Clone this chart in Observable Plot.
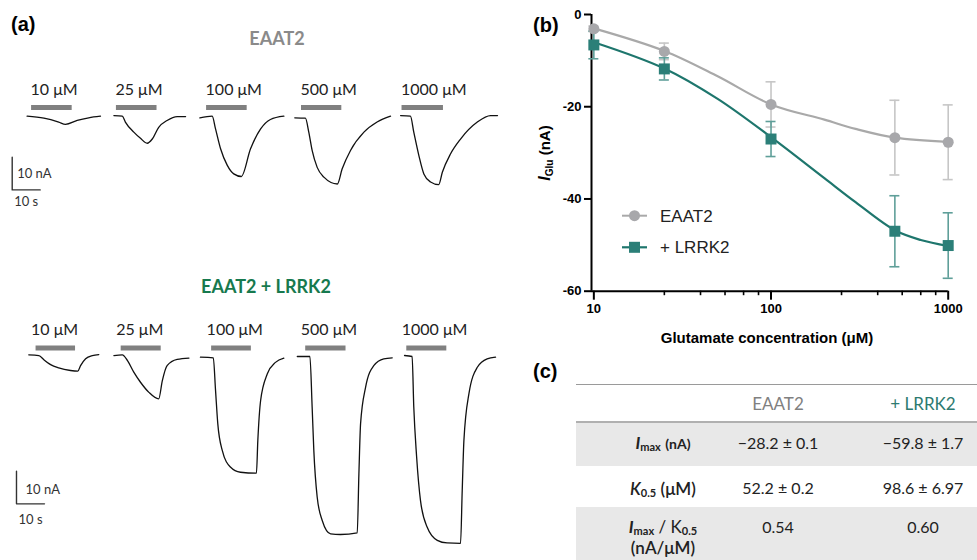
<!DOCTYPE html>
<html>
<head>
<meta charset="utf-8">
<script src="https://cdn.jsdelivr.net/npm/d3@7"></script>
<script src="https://cdn.jsdelivr.net/npm/@observablehq/plot@0.6"></script>
<style>
  html, body { margin: 0; padding: 0; background: #fff; }
  #page { position: relative; width: 977px; height: 560px; overflow: hidden; font-family: "Liberation Sans", Arial, sans-serif; }
  .abs { position: absolute; white-space: nowrap; }
  .panel { font: bold 20px "Liberation Sans", Arial, sans-serif; transform: translateY(-50%); line-height: 1; }
  .ctr { transform: translate(-50%, -50%); line-height: 1; }
  .tbl { font-family: Lato, "Open Sans", sans-serif; font-size: 16px; color: #222; }
  .tbl sub { font-size: 11px; vertical-align: -2px; font-weight: bold; line-height: 0; }
</style>
</head>
<body>
<div id="page">
  <div class="abs panel" style="left:11px; top:24px;">(a)</div>
  <div class="abs panel" style="left:533px; top:25px;">(b)</div>
  <div class="abs panel" style="left:533px; top:371px;">(c)</div>

  <div class="abs ctr" style="left:277px; top:38px; font: bold 18px Lato, sans-serif; color:#8a8a8a;">EAAT2</div>
  <div class="abs ctr" style="left:266px; top:286px; font: bold 18px Lato, sans-serif; color:#17794e;">EAAT2 + LRRK2</div>

  <div id="row1" class="abs" style="left:0; top:0;"></div>
  <div id="row2" class="abs" style="left:0; top:230px;"></div>
  <div id="panelB" class="abs" style="left:530px; top:0;"></div>

  <!-- panel (b) axis titles -->
  <div class="abs" style="left:546px; top:153px; transform: translate(-50%,-50%) rotate(-90deg); font: bold 15px 'Liberation Sans', Arial, sans-serif; line-height:1;">
    <i style="font-size:16px">I</i><sub style="font-size:10px; vertical-align:-3px;">Glu</sub> (nA)
  </div>
  <div class="abs ctr" style="left:767px; top:337px; font: bold 15px 'Liberation Sans', Arial, sans-serif;">Glutamate concentration (μM)</div>

  <!-- panel (b) legend -->
  <svg class="abs" style="left:615px; top:205px;" width="40" height="55">
    <line x1="7" y1="10.7" x2="32" y2="10.7" stroke="#a9a9a9" stroke-width="2"/>
    <circle cx="19.5" cy="10.7" r="5.5" fill="#a8a8ab"/>
    <line x1="7" y1="42.3" x2="32" y2="42.3" stroke="#1e766d" stroke-width="2.2"/>
    <rect x="14" y="36.8" width="11" height="11" fill="#2b7f78"/>
  </svg>
  <div class="abs" style="left:660px; top:216px; transform:translateY(-50%); font: 17px 'Liberation Sans', Arial, sans-serif; color:#222; line-height:1;">EAAT2</div>
  <div class="abs" style="left:660px; top:247px; transform:translateY(-50%); font: 17px 'Liberation Sans', Arial, sans-serif; color:#222; line-height:1;">+ LRRK2</div>

  <!-- panel (c) table -->
  <div id="tableC" class="abs tbl" style="left:576px; top:384px; width:401px; height:176px;"></div>
</div>

<script>
// ---------------- DATA ----------------
// Glutamate concentrations (µM)
const conc = [10, 25, 100, 500, 1000];

// Panel (a): current traces [time (s), current (nA)], EAAT2 alone
const eaat2Traces = [
  [[9.5,0],[15.5,-0.6],[20.8,-1.8],[23.2,-2.5],[27.4,-1.3],[31.5,-0.5],[35.7,0]],
  [[40.5,0.2],[43.5,0],[44.6,-1.8],[47.6,-4.9],[50,-6.8],[52.4,-8.3],[54.2,-7.0],[56.5,-3.4],[59.5,-1.3],[63.1,-0.1],[66.1,-0.1]],
  [[71.2,-0.5],[75.6,0],[76.8,-3.9],[78.6,-10.0],[81,-15.1],[83.3,-17.7],[86,-18.5],[89.3,-10.0],[92.9,-3.9],[96.4,-1.0],[101.2,0]],
  [[105.1,-0.5],[108.9,-0.6],[110.1,-4.9],[111.3,-10.5],[113.1,-15.7],[115.5,-18.7],[120.3,-20.8],[122,-16.2],[125,-10.5],[129.8,-4.9],[134.5,-1.8],[139.3,0]],
  [[142.9,0.2],[146.4,0],[147.6,-4.9],[149.4,-12.0],[151.2,-17.7],[153.6,-20.2],[156.5,-21.0],[157.8,-17.2],[160.7,-11.6],[164.3,-7.0],[170.3,-1.8],[175,0.2],[177.5,0.2]]
];
// EAAT2 + LRRK2
const lrrk2Traces = [
  [[10.1,0.5],[13.7,0.3],[15.5,-1.0],[17.9,-2.5],[20.8,-3.5],[25,-4.3],[27.6,-4.5],[28.6,-2.8],[30.4,-0.7],[32.8,0.3],[35.1,0.6]],
  [[40.5,0.3],[43.5,0.5],[45.3,-1.2],[47.6,-4.8],[50,-7.9],[53,-11.0],[56.5,-13.0],[57.8,-7.4],[59.5,-2.8],[63.1,-0.9],[67.3,-0.5]],
  [[71.4,-0.2],[76,-0.4],[76.8,-10.4],[77.6,-20.6],[79.2,-28.8],[82.1,-33.9],[85.7,-35.5],[91.4,-35.8],[91.9,-25.8],[92.9,-13.5],[95.3,-5.3],[98.2,-1.8],[101.2,-0.5]],
  [[106,0],[110.5,0],[111.3,-15.5],[111.9,-28.8],[113.1,-43.1],[114.9,-50.3],[117.9,-54.4],[121.4,-54.6],[127.4,-54.1],[128,-36.0],[128.6,-20.6],[130.4,-9.4],[133.3,-2.8],[136.9,-0.7],[139.9,-0.4]],
  [[144.3,0.3],[147,0],[147.6,-15.5],[148.6,-30.6],[150,-44.2],[152.4,-52.4],[156,-56.4],[159.5,-57.2],[164.3,-57.3],[164.9,-41.1],[165.5,-25.8],[167.3,-11.4],[170.3,-3.3],[173.8,-0.7],[176.8,-0.2]]
];
// Glutamate application periods [start, end] (s)
const eaat2Pulses = [[11.1,25.6],[41.4,55.9],[73.6,88.1],[107.5,121.9],[143.4,158.2]];
const lrrk2Pulses = [[12.7,26.8],[43.1,57.4],[75.4,89.6],[109,123.4],[145.1,159.4]];
// Scale bars: 10 s, 10 nA; corner position [time, current]
const scaleBarSize = {t: 10, I: 10};
const eaat2ScaleCorner = [4.18, -22.6];
const lrrk2ScaleCorner = [5.71, -45.2];

// Panel (b): dose–response, mean ± SEM (nA)
const glu = [10, 25, 100, 500, 1000];
const eaat2Mean = [-3.1, -8.0, -19.5, -26.7, -27.7];
const eaat2Sem  = [0.6, 1.8, 4.9, 8.1, 8.1];
const lrrk2Mean = [-6.6, -11.8, -27.0, -47.0, -50.1];
const lrrk2Sem  = [3.0, 2.4, 3.8, 7.7, 7.1];
// fitted curves
const eaat2FitX = [10, 25, 50, 100, 200, 300, 500, 1000];
const eaat2FitY = [-3.0, -7.9, -13.4, -19.5, -22.8, -24.8, -26.7, -27.6];
const lrrk2FitX = [10, 25, 50, 100, 200, 300, 500, 700, 1000];
const lrrk2FitY = [-6.0, -11.7, -18.3, -26.6, -35.5, -40.7, -46.8, -48.9, -50.2];
const xMajorTicks = [10, 100, 1000];
const xMinorTicks = [25, 40, 55, 70, 85, 250, 400, 550, 700, 850];
const yTicks = [0, -20, -40, -60];

// Panel (c): table
const tableCols = ["EAAT2", "+ LRRK2"];
const tableRowLabels = [
  '<b><i>I</i></b><sub>max</sub> <b style="font-size:14px">(nA)</b>',
  '<i style="font-weight:600">K</i><sub>0.5</sub> <span style="font-weight:600">(μM)</span>',
  '<b><i>I</i></b><sub>max</sub> / K<sub>0.5</sub><br><span style="font-weight:600">(nA/μM)</span>'
];
const tableEaat2 = ["−28.2 ± 0.1", "52.2 ± 0.2", "0.54"];
const tableLrrk2 = ["−59.8 ± 1.7", "98.6 ± 6.97", "0.60"];

// ---------------- PANEL (a) ----------------
function tracePlot(traces, pulses, corner, o) {
  const rows = traces.flatMap((tr, i) => tr.map(([t, I]) => ({c: conc[i], t, I})));
  const pulseRows = pulses.map(([a, b], i) => ({c: conc[i], a, b}));
  const [ct, cI] = corner;
  const bar = [
    {t: ct, I: cI + scaleBarSize.I},
    {t: ct, I: cI},
    {t: ct + scaleBarSize.t, I: cI}
  ];
  return Plot.plot({
    width: 530, height: o.height,
    marginLeft: 0, marginRight: 0, marginTop: 0, marginBottom: 0,
    x: {domain: [0, 530 / 2.8], axis: null},
    y: {domain: o.yDomain, range: o.yRange, axis: null},
    style: {background: "transparent", overflow: "visible", fontFamily: "Lato, sans-serif"},
    marks: [
      Plot.ruleY(pulseRows, {x1: "a", x2: "b", y: 0, dy: o.barDy, stroke: "#808080", strokeWidth: 5}),
      Plot.text(pulseRows, {x: "a", y: 0, text: d => `${d.c} μM`, textAnchor: "start",
        dx: o.labelDx, dy: o.labelDy, fontSize: 16, fill: "#222"}),
      Plot.line(rows, {x: "t", y: "I", z: "c", curve: "monotone-x", stroke: "#111", strokeWidth: 1.3}),
      Plot.line(bar, {x: "t", y: "I", stroke: "#333", strokeWidth: 1.4}),
      Plot.text([`${scaleBarSize.I} nA`], {x: ct, y: cI + scaleBarSize.I / 2, text: d => d,
        textAnchor: "start", dx: o.nAdx, dy: o.nAdy, fontSize: 13, fill: "#333"}),
      Plot.text([`${scaleBarSize.t} s`], {x: ct, y: cI, text: d => d,
        textAnchor: "start", dx: o.sdx, dy: o.sdy, fontSize: 13, fill: "#333"})
    ]
  });
}

document.getElementById("row1").append(tracePlot(eaat2Traces, eaat2Pulses, eaat2ScaleCorner, {
  height: 225, yDomain: [-30, 10], yRange: [213.5, 83.1],
  barDy: -8.7, labelDx: -1, labelDy: -26, nAdx: 5, nAdy: 0, sdx: 2, sdy: 12
}));
document.getElementById("row2").append(tracePlot(lrrk2Traces, lrrk2Pulses, lrrk2ScaleCorner, {
  height: 330, yDomain: [-70, 10], yRange: [354.2, 93.4],
  barDy: -8.5, labelDx: -5, labelDy: -27, nAdx: 9, nAdy: 2, sdx: 2, sdy: 16
}));

// ---------------- PANEL (b) ----------------
const series = [
  {name: "EAAT2", mean: eaat2Mean, sem: eaat2Sem, fx: eaat2FitX, fy: eaat2FitY,
   line: "#a9a9a9", err: "#c6c6c6", fill: "#a8a8ab", symbol: "circle", r: 5.5},
  {name: "+ LRRK2", mean: lrrk2Mean, sem: lrrk2Sem, fx: lrrk2FitX, fy: lrrk2FitY,
   line: "#1e766d", err: "#5f9f99", fill: "#2b7f78", symbol: "square", r: 6.2}
];
const bMarks = [];
for (const s of series) {
  const pts = glu.map((x, i) => ({x, y: s.mean[i], lo: s.mean[i] - s.sem[i], hi: s.mean[i] + s.sem[i]}));
  const caps = pts.flatMap(p => [{x: p.x, v: p.lo}, {x: p.x, v: p.hi}]);
  bMarks.push(
    Plot.ruleX(pts, {x: "x", y1: "lo", y2: "hi", stroke: s.err, strokeWidth: 1.6}),
    Plot.ruleY(caps, {y: "v", x1: "x", x2: "x", insetLeft: -5, insetRight: -5, stroke: s.err, strokeWidth: 1.6})
  );
}
for (const s of series) {
  const fit = s.fx.map((x, i) => ({x, y: s.fy[i]}));
  bMarks.push(Plot.line(fit, {x: "x", y: "y", curve: "catmull-rom", stroke: s.line, strokeWidth: 2.2}));
}
for (const s of series) {
  const pts = glu.map((x, i) => ({x, y: s.mean[i]}));
  bMarks.push(Plot.dot(pts, {x: "x", y: "y", symbol: s.symbol, r: s.r, fill: s.fill, stroke: "none"}));
}

const panelB = Plot.plot({
  width: 447, height: 350,
  marginLeft: 61, marginRight: 29.3, marginTop: 14, marginBottom: 59.3,
  x: {type: "log", domain: [9.7, 1000], axis: null},
  y: {domain: [-60, 0], axis: null},
  style: {background: "transparent", overflow: "visible", fontFamily: "'Liberation Sans', Arial, sans-serif", color: "#000"},
  marks: [
    Plot.axisX(xMinorTicks, {anchor: "bottom", tickSize: 4.5, strokeWidth: 1.6, fill: "none", label: null}),
    Plot.axisX(xMajorTicks, {anchor: "bottom", tickSize: 9, tickPadding: 4, strokeWidth: 2,
      fontSize: 13, fontWeight: "bold", tickFormat: d => String(d), label: null}),
    Plot.axisY(yTicks, {anchor: "left", tickSize: 7, tickPadding: 3, strokeWidth: 2,
      fontSize: 13, fontWeight: "bold", tickFormat: d => String(d), label: null}),
    Plot.ruleY([-60], {stroke: "#000", strokeWidth: 2}),
    Plot.ruleX([9.7], {stroke: "#000", strokeWidth: 2}),
    ...bMarks
  ]
});
document.getElementById("panelB").append(panelB);

// ---------------- PANEL (c) ----------------
(function buildTable() {
  const el = document.getElementById("tableC");
  const L = 576, T = 384;
  const colX = [663 - L, 778 - L, 923 - L];
  const add = (html, x, y, style = "") => {
    const d = document.createElement("div");
    d.className = "abs ctr";
    d.style.cssText = `left:${x}px; top:${y}px; ${style}`;
    d.innerHTML = html;
    el.append(d);
  };
  const bg = (y0, y1, color) => {
    const d = document.createElement("div");
    d.className = "abs";
    d.style.cssText = `left:0; top:${y0 - T}px; width:401px; height:${y1 - y0}px; background:${color};`;
    el.append(d);
  };
  const hline = (y, color) => {
    const d = document.createElement("div");
    d.className = "abs";
    d.style.cssText = `left:0; top:${y - T}px; width:401px; height:1.5px; background:${color};`;
    el.append(d);
  };
  bg(422, 466, "#e8e8e8");
  bg(507, 560, "#e8e8e8");
  hline(383.5, "#9a9a9a");
  hline(421, "#b0b0b0");
  add(tableCols[0], colX[1], 403 - T, "color:#808080; font-size:17px;");
  add(tableCols[1], colX[2], 403 - T, "color:#2d7a70; font-size:17px;");
  const rowY = [443, 488, 527];
  const labelY = [443, 488, 537];
  tableRowLabels.forEach((lab, i) => {
    add(lab, colX[0], labelY[i] - T, "font-size:17px; text-align:center; line-height:21px;");
    add(tableEaat2[i], colX[1], rowY[i] - T);
    add(tableLrrk2[i], colX[2], rowY[i] - T);
  });
})();
</script>
</body>
</html>
